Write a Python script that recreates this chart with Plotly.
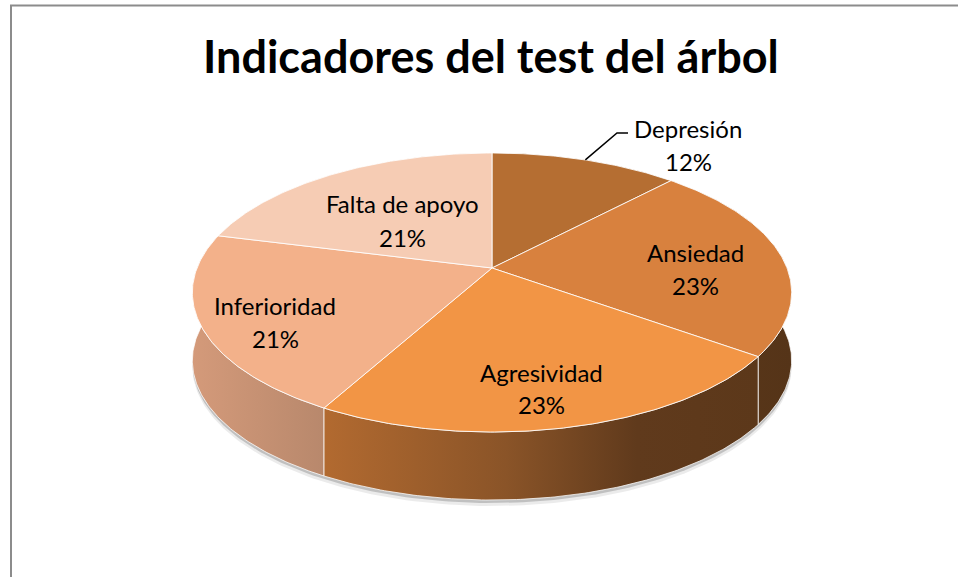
import numpy as np
import plotly.graph_objects as go

# ---------------- data ----------------
labels = ["Depresión", "Ansiedad", "Agresividad", "Inferioridad", "Falta de apoyo"]
values = [12, 23, 23, 21, 21]
pct_labels = ["12%", "23%", "23%", "21%", "21%"]
title_text = "Indicadores del test del árbol"

# ---------------- style ----------------
top_colors = ["#b56e32", "#d8813e", "#f29545", "#f3b18a", "#f6ccb4"]
side_scales = [
    [[0, "#7a4a22"], [1, "#5c381a"]],
    [[0, "#5c381a"], [1, "#553418"]],
    [[0, "#b26a30"], [0.42, "#8a5428"], [0.72, "#603a1c"], [1, "#5c381a"]],
    [[0, "#d49a7a"], [1, "#b8886c"]],
    [[0, "#e0b090"], [1, "#c09070"]],
]
label_pos = [(688, 128, 161), (695, 252, 285), (541, 372, 404),
             (275, 305, 338), (402, 203, 237)]
W, H = 958, 577
CX, CY, A, B, K, DEPTH = 492, 268, 295, 135.2, 0.1756, 68
FONT = "Lato"


def project(phi):
    u, v = np.sin(phi), -np.cos(phi)
    d = 1 - K * v
    return CX + A * u / d, CY + B * v / d


total = float(sum(values))
bounds = np.concatenate([[0], np.cumsum(values)]) / total * 2 * np.pi

fig = go.Figure()

# soft shadow under the pie
full = np.linspace(0, 2 * np.pi, 361)
sx, sy = project(full)
for off, op in [(6, 0.08), (3, 0.18)]:
    fig.add_trace(go.Scatter(x=sx, y=sy + DEPTH + off, fill="toself", mode="lines",
                             line=dict(width=0), fillcolor=f"rgba(0,0,0,{op})",
                             hoverinfo="skip", showlegend=False))

# side walls (back to front order)
order = [0, 4, 1, 3, 2]
for i in order:
    ph = np.linspace(bounds[i], bounds[i + 1], 120)
    tx, ty = project(ph)
    px = np.concatenate([tx, tx[::-1], tx[:1]])
    py = np.concatenate([ty, (ty + DEPTH)[::-1], ty[:1]])
    fig.add_trace(go.Scatter(
        x=px, y=py, fill="toself", mode="lines",
        line=dict(color="rgba(255,255,255,0.75)", width=1),
        fillgradient=dict(type="horizontal", colorscale=side_scales[i]),
        hoverinfo="skip", showlegend=False))

# top faces
for i in range(len(values)):
    ph = np.linspace(bounds[i], bounds[i + 1], 120)
    tx, ty = project(ph)
    px = np.concatenate([[CX], tx, [CX]])
    py = np.concatenate([[CY], ty, [CY]])
    fig.add_trace(go.Scatter(
        x=px, y=py, fill="toself", mode="lines", fillcolor=top_colors[i],
        line=dict(color="rgba(255,255,255,0.85)", width=1),
        name=labels[i], hoverinfo="name", showlegend=False))

# leader line for first slice
mid = (bounds[0] + bounds[1]) / 2
lx, ly = project(mid)
fig.add_trace(go.Scatter(x=[lx, 617, 628], y=[ly, 133, 133], mode="lines",
                         line=dict(color="black", width=1.5),
                         hoverinfo="skip", showlegend=False))

annotations = []
for i in range(len(values)):
    x0, y1, y2 = label_pos[i]
    annotations.append(dict(x=x0, y=y1, xref="x", yref="y", text=labels[i],
                            showarrow=False, font=dict(family=FONT, size=24, color="black")))
    annotations.append(dict(x=x0, y=y2, xref="x", yref="y", text=pct_labels[i],
                            showarrow=False, font=dict(family=FONT, size=24, color="black")))
annotations.append(dict(x=491, y=56, xref="x", yref="y", text="<b>" + title_text + "</b>",
                        showarrow=False, font=dict(family=FONT, size=45, color="black")))

fig.update_layout(
    width=W, height=H, margin=dict(l=0, r=0, t=0, b=0),
    paper_bgcolor="white", plot_bgcolor="white",
    xaxis=dict(range=[0, W], visible=False, fixedrange=True),
    yaxis=dict(range=[H, 0], visible=False, fixedrange=True),
    annotations=annotations,
    shapes=[
        dict(type="line", xref="x", yref="y", x0=10, x1=W, y0=5.5, y1=5.5,
             line=dict(color="#8c8c8c", width=2)),
        dict(type="line", xref="x", yref="y", x0=11, x1=11, y0=5, y1=H,
             line=dict(color="#8c8c8c", width=2)),
    ],
)

fig.write_html("out.html",
               config={"displayModeBar": False},
               post_script="document.body.style.margin='0';"
                           "document.body.style.overflow='hidden';")
